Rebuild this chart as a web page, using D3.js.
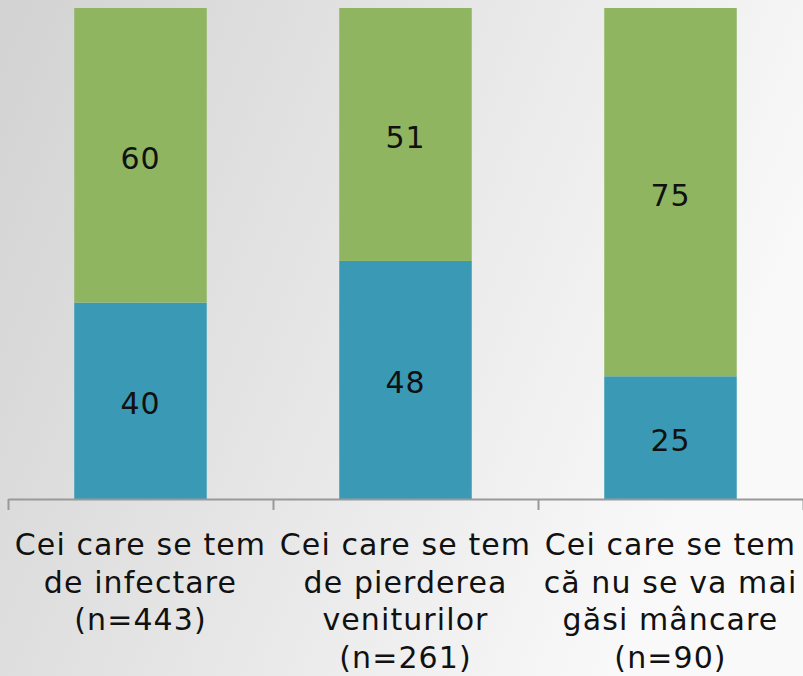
<!DOCTYPE html>
<html>
<head>
<meta charset="utf-8">
<script src="https://cdn.jsdelivr.net/npm/d3@7"></script>
<style>
  html, body { margin: 0; padding: 0; overflow: hidden; }
  body { width: 803px; height: 676px; }
  text { font-family: 'DejaVu Sans', Verdana, sans-serif; fill: #111; }
</style>
</head>
<body>
<div id="chart"></div>
<script>
const categories = ['infectare', 'venituri', 'mancare'];
const labelLines = [
  ['Cei care se tem', 'de infectare', '(n=443)'],
  ['Cei care se tem', 'de pierderea', 'veniturilor', '(n=261)'],
  ['Cei care se tem', 'că nu se va mai', 'găsi mâncare', '(n=90)'],
];
const blueValues = [40, 48, 25];
const greenValues = [60, 51, 75];
const colors = { blue: '#3a9ab5', green: '#8fb560' };

const width = 803;
const height = 676;
const axisY = 499;
const plotTop = 8;

const svg = d3.select('#chart')
  .append('svg')
    .attr('width', width)
    .attr('height', height);

// background gradient
const grad = svg.append('defs')
  .append('linearGradient')
    .attr('id', 'bg')
    .attr('x1', '0%')
    .attr('y1', '0%')
    .attr('x2', '100%')
    .attr('y2', '35%');
grad.append('stop').attr('offset', '0%').attr('stop-color', '#d2d2d2');
grad.append('stop').attr('offset', '100%').attr('stop-color', '#f9f9f9');

svg.append('rect')
  .attr('width', width)
  .attr('height', height)
  .attr('fill', 'url(#bg)');

const data = categories.map((c, i) => ({
  cat: c,
  blue: blueValues[i],
  green: greenValues[i],
}));

// 100% stacked
const series = d3.stack()
  .keys(['blue', 'green'])
  .offset(d3.stackOffsetExpand)(data);

const x = d3.scaleBand()
  .domain(categories)
  .range([8, 803])
  .padding(0);

const y = d3.scaleLinear()
  .domain([0, 1])
  .range([axisY, plotTop]);

const barW = x.bandwidth() * 0.5;
const cx = d => x(d.data.cat) + x.bandwidth() / 2;

const layers = svg.append('g')
  .selectAll('g')
  .data(series)
  .enter()
  .append('g')
    .attr('fill', s => colors[s.key]);

layers.selectAll('rect')
  .data(s => s)
  .enter()
  .append('rect')
    .attr('x', d => cx(d) - barW / 2)
    .attr('y', d => y(d[1]))
    .attr('width', barW)
    .attr('height', d => y(d[0]) - y(d[1]));

// value labels
const values = svg.append('g')
  .attr('text-anchor', 'middle')
  .style('font-size', '30px')
  .style('letter-spacing', '1px');

series.forEach(s => {
  values.selectAll(`.v-${s.key}`)
    .data(s)
    .enter()
    .append('text')
      .attr('class', `v-${s.key}`)
      .attr('x', cx)
      .attr('y', d => (y(d[0]) + y(d[1])) / 2)
      .attr('dy', '0.45em')
      .text(d => d.data[s.key]);
});

// axis with ticks on category boundaries
const edges = d3.scaleLinear()
  .domain([0, categories.length])
  .range(x.range());

svg.append('g')
  .attr('transform', `translate(0, ${axisY})`)
  .call(d3.axisBottom(edges)
    .tickValues(d3.range(categories.length + 1))
    .tickSize(11)
    .tickSizeOuter(0)
    .tickFormat(''))
  .call(g => g.selectAll('path, line')
    .attr('stroke', '#999')
    .attr('stroke-width', 2));

// category labels
const labels = svg.append('g')
  .attr('text-anchor', 'middle')
  .style('font-size', '30px')
  .style('letter-spacing', '1.1px');

labels.selectAll('text')
  .data(data)
  .enter()
  .append('text')
    .attr('y', 555)
    .each(function (d, i) {
      d3.select(this).selectAll('tspan')
        .data(labelLines[i])
        .enter()
        .append('tspan')
          .attr('x', x(d.cat) + x.bandwidth() / 2)
          .attr('dy', (t, j) => (j === 0 ? 0 : 37.5))
          .text(t => t);
    });
</script>
</body>
</html>
